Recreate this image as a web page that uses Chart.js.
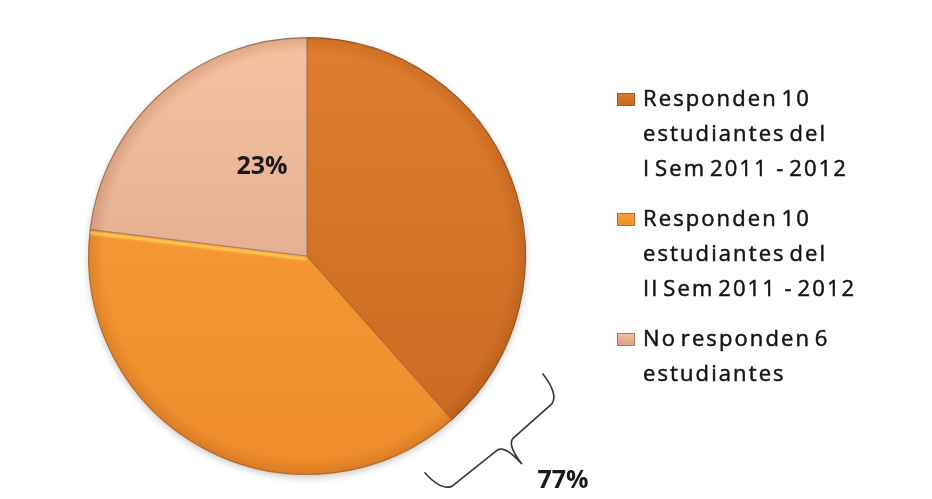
<!DOCTYPE html>
<html>
<head>
<meta charset="utf-8">
<script src="https://cdn.jsdelivr.net/npm/chart.js@4/dist/chart.umd.min.js"></script>
<style>
  html, body { margin: 0; padding: 0; background: #ffffff; }
  #wrap { width: 932px; height: 499px; position: relative; }
</style>
</head>
<body>
<div id="wrap"><canvas id="c" width="932" height="499"></canvas></div>
<script>
// Survey responses by group (number of students)
const categories = [
  ['Responden 10', 'estudiantes del', 'I Sem 2011  - 2012'],
  ['Responden 10', 'estudiantes del', 'II Sem 2011  - 2012'],
  ['No responden 6', 'estudiantes']
];
const students = [10, 10, 6];

// Slice shading: top / bottom of the gradient and the edge line
const sliceTop = ['#E07D2D', '#F9A03C', '#F6C2A2'];
const sliceBottom = ['#C86820', '#EF8C2C', '#D69D82'];
const sliceEdge = ['#9E5A2A', '#B9702E', '#A97A62'];

const total = students.reduce((a, b) => a + b, 0);
const pct = v => Math.round(v / total * 100) + '%';

const FONT = '"Open Sans", "Liberation Sans", sans-serif';

function sliceFill(context) {
  const i = context.dataIndex;
  const chart = context.chart;
  const area = chart.chartArea;
  if (!area) return sliceTop[i];
  const g = chart.ctx.createLinearGradient(0, area.top, 0, area.bottom);
  g.addColorStop(0, sliceTop[i]);
  g.addColorStop(1, sliceBottom[i]);
  return g;
}

// Soft shadow under the whole pie
const pieShadow = {
  id: 'pieShadow',
  beforeDatasetsDraw(chart) {
    const arc = chart.getDatasetMeta(0).data[0];
    if (!arc) return;
    const ctx = chart.ctx;
    ctx.save();
    ctx.shadowColor = 'rgba(0,0,0,0.28)';
    ctx.shadowBlur = 8;
    ctx.shadowOffsetY = 3;
    ctx.fillStyle = '#ffffff';
    ctx.beginPath();
    ctx.arc(arc.x, arc.y, arc.outerRadius - 1, 0, Math.PI * 2);
    ctx.fill();
    ctx.restore();
  },
  // bevel: darker rim and a warm highlight along the upper edge of the middle slice
  afterDatasetsDraw(chart) {
    const arcs = chart.getDatasetMeta(0).data;
    if (!arcs.length) return;
    const ctx = chart.ctx;
    const { x, y, outerRadius: R } = arcs[0];
    ctx.save();
    ctx.beginPath();
    ctx.arc(x, y, R, 0, Math.PI * 2);
    ctx.clip();
    const rim = ctx.createRadialGradient(x, y, R * 0.93, x, y, R);
    rim.addColorStop(0, 'rgba(120,50,0,0)');
    rim.addColorStop(1, 'rgba(120,50,0,0.18)');
    ctx.fillStyle = rim;
    ctx.fillRect(x - R, y - R, 2 * R, 2 * R);

    const mid = arcs[1];
    const a = mid.endAngle;
    const ox = Math.cos(a - Math.PI / 2) * 3, oy = Math.sin(a - Math.PI / 2) * 3;
    ctx.strokeStyle = 'rgba(255,215,90,0.85)';
    ctx.lineWidth = 3;
    ctx.filter = 'blur(1px)';
    ctx.beginPath();
    ctx.moveTo(x + ox, y + oy);
    ctx.lineTo(x + Math.cos(a) * R + ox, y + Math.sin(a) * R + oy);
    ctx.stroke();
    ctx.restore();
  }
};

// Percentage labels, the brace grouping the two answering groups, and the legend
const annotations = {
  id: 'annotations',
  afterDraw(chart) {
    const ctx = chart.ctx;
    const meta = chart.getDatasetMeta(0);
    const arcs = meta.data;
    const cx = arcs[0].x, cy = arcs[0].y, R = arcs[0].outerRadius;

    // label inside the "no responden" slice
    const a = arcs[2];
    const ang = a.startAngle + 0.68 * (a.endAngle - a.startAngle);
    const lr = 0.46 * R;
    ctx.save();
    ctx.font = 'bold 25px ' + FONT;
    ctx.fillStyle = '#1a1a1a';
    ctx.textAlign = 'center';
    ctx.textBaseline = 'middle';
    ctx.fillText(pct(students[2]), cx + Math.cos(ang) * lr, cy + Math.sin(ang) * lr + 1);
    ctx.restore();

    // curly brace outside the pie, lower right
    const bx = cx + 118, by = cy + 217;          // brace start
    const L = 154;
    const ux = 0.766, uy = -0.643;               // along the brace
    const nx = 0.643, ny = 0.766;                // away from the pie
    const P = (u, n) => [bx + ux * u + nx * n, by + uy * u + ny * n];
    ctx.save();
    ctx.strokeStyle = '#3a3a3a';
    ctx.lineWidth = 1.7;
    ctx.lineJoin = 'round';
    ctx.lineCap = 'round';
    ctx.beginPath();
    let p = P(0, 0); ctx.moveTo(p[0], p[1]);
    let c1 = P(1, 24), e = P(12, 27.5); ctx.quadraticCurveTo(c1[0], c1[1], e[0], e[1]);
    e = P(70, 29); ctx.lineTo(e[0], e[1]);
    c1 = P(79, 30); e = P(80, 55); ctx.quadraticCurveTo(c1[0], c1[1], e[0], e[1]);
    c1 = P(81, 31); e = P(90, 30); ctx.quadraticCurveTo(c1[0], c1[1], e[0], e[1]);
    e = P(142, 28.5); ctx.lineTo(e[0], e[1]);
    c1 = P(153, 25); e = P(L, 0); ctx.quadraticCurveTo(c1[0], c1[1], e[0], e[1]);
    ctx.stroke();
    ctx.restore();

    ctx.save();
    ctx.font = 'bold 25px ' + FONT;
    ctx.fillStyle = '#1a1a1a';
    ctx.textAlign = 'center';
    ctx.textBaseline = 'middle';
    ctx.fillText(pct(students[0] + students[1]), cx + 256, cy + 225);
    ctx.restore();

    // legend
    const lx = 617, boxW = 18, boxH = 13, textX = 643;
    const lineH = 35, gap = 15;
    let base = 106;
    ctx.save();
    ctx.font = '22px ' + FONT;
    ctx.letterSpacing = '2.1px';
    ctx.wordSpacing = '-4px';
    ctx.textAlign = 'left';
    ctx.textBaseline = 'alphabetic';
    categories.forEach((lines, i) => {
      const top = base - 13;
      const g = ctx.createLinearGradient(0, top, 0, top + boxH);
      g.addColorStop(0, sliceTop[i]);
      g.addColorStop(1, sliceBottom[i]);
      ctx.fillStyle = g;
      ctx.fillRect(lx, top, boxW, boxH);
      ctx.strokeStyle = sliceEdge[i];
      ctx.lineWidth = 1;
      ctx.strokeRect(lx + 0.5, top + 0.5, boxW - 1, boxH - 1);
      ctx.fillStyle = '#141414';
      ctx.strokeStyle = '#141414';
      ctx.lineWidth = 0.5;
      lines.forEach((t, j) => {
        ctx.fillText(t, textX, base + j * lineH);
        ctx.strokeText(t, textX, base + j * lineH);
      });
      base += lines.length * lineH + gap;
    });
    ctx.restore();
  }
};

new Chart(document.getElementById('c'), {
  type: 'pie',
  data: {
    labels: categories,
    datasets: [{
      data: students,
      backgroundColor: sliceFill,
      borderColor: sliceEdge,
      borderWidth: 1.2
    }]
  },
  options: {
    responsive: false,
    animation: false,
    layout: { padding: { left: 88, top: 37, right: 406, bottom: 24 } },
    plugins: {
      legend: { display: false },
      tooltip: { enabled: false }
    }
  },
  plugins: [pieShadow, annotations]
});
</script>
</body>
</html>
